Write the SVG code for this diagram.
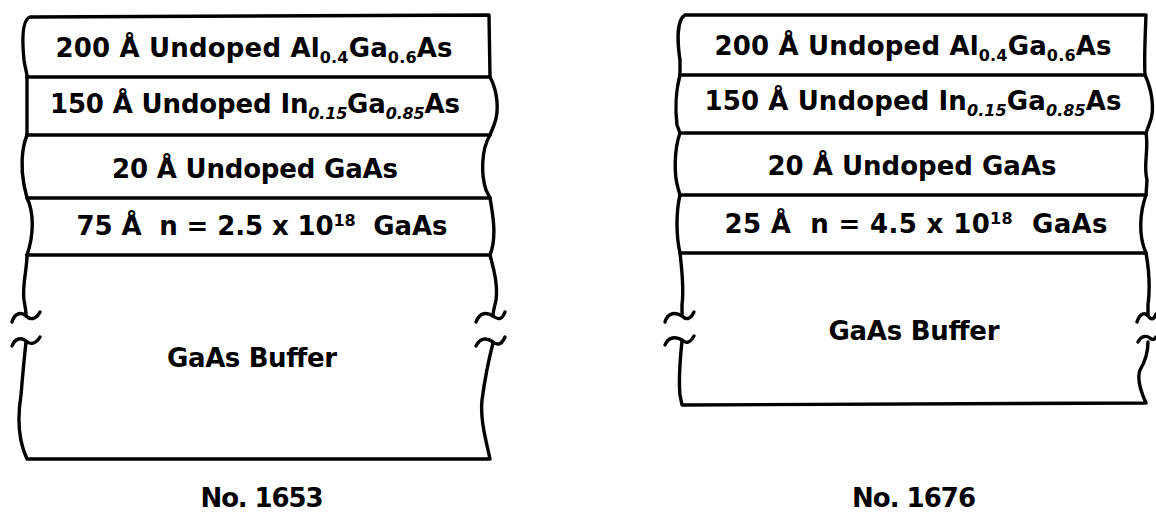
<svg xmlns="http://www.w3.org/2000/svg" width="1156" height="513" viewBox="0 0 1156 513">
<style>
  .ln{fill:none;stroke:#000;stroke-width:3.4;stroke-linecap:round;stroke-linejoin:round}
  .t{font-family:"DejaVu Sans","Open Sans",sans-serif;font-weight:bold;font-size:26px;fill:#000;text-anchor:middle}
  .sub{font-size:16px}
  .it{font-style:italic}
</style>
<rect width="1156" height="513" fill="#fff"/>

<g id="stack-1653">
  <g id="outline-1653" class="ln">
    <path d="M27,77 C27,72 25,68 24,60 C22,40 22,20 30,17 L489,15 L490,77"/>
    <path d="M490,77 C497,90 500,110 494,125 L490,135"/>
    <path d="M27,77 L27,135"/>
    <path d="M27,135 C21,150 21,170 24,185 L27,198"/>
    <path d="M490,135 C481,150 481,175 486,190 L490,198"/>
    <path d="M27,198 C34,212 34,235 27,255"/>
    <path d="M490,198 C493,215 497,238 490,255"/>
    <path d="M27,255 C27,270 22,285 24,300 C25,306 26,310 26,315"/>
    <path d="M12,322 C15,312 22,312 26,316 C30,320 36,320 40,312"/>
    <path d="M12,346 C15,338 22,337 26,341 C30,345 36,344 40,337"/>
    <path d="M26,342 C24,360 22,383 21,395 C17,420 18,440 27,459 L490,459 C486,440 480,420 482,400 C484,385 486,370 493,343"/>
    <path d="M476,346 C480,338 486,337 493,342 C498,346 502,344 505,337"/>
    <path d="M490,255 C494,270 498,285 496,300 C495,306 493,310 493,316"/>
    <path d="M476,322 C480,312 487,312 493,316 C498,320 502,320 505,312"/>
  </g>
  <g id="layer-1653-boundaries" class="ln">
    <path d="M27,77 L490,77"/>
    <path d="M27,135 L490,135"/>
    <path d="M27,198 L490,198"/>
    <path d="M27,255 L490,255"/>
  </g>
  <text class="t" x="254" y="57" textLength="397" lengthAdjust="spacing">200 Å Undoped Al<tspan class="sub" dy="6">0.4</tspan><tspan dy="-6">Ga</tspan><tspan class="sub" dy="6">0.6</tspan><tspan dy="-6">As</tspan></text>
  <text class="t" x="255" y="113" textLength="410" lengthAdjust="spacing">150 Å Undoped In<tspan class="sub it" dy="6">0.15</tspan><tspan dy="-6">Ga</tspan><tspan class="sub it" dy="6">0.85</tspan><tspan dy="-6">As</tspan></text>
  <text class="t" x="255" y="178" textLength="286" lengthAdjust="spacing">20 Å Undoped GaAs</text>
  <text class="t" x="262" y="235" textLength="371" lengthAdjust="spacing" xml:space="preserve">75 Å  n = 2.5 x 10<tspan class="sub" dy="-9">18</tspan><tspan dy="9">  GaAs</tspan></text>
  <text class="t" x="252" y="367" textLength="170" lengthAdjust="spacing">GaAs Buffer</text>
  <text class="t" x="262" y="507" textLength="123" lengthAdjust="spacing">No. 1653</text>
</g>

<g id="stack-1676">
  <g id="outline-1676" class="ln">
    <path d="M680,75 L680,60 C677,40 677,20 685,15 L1146,15 C1145,40 1144,60 1145,75"/>
    <path d="M680,75 C676,90 675,110 677,125 L680,133"/>
    <path d="M1145,75 C1152,90 1155,110 1150,122 L1146,133"/>
    <path d="M680,133 C674,150 674,175 678,188 L680,195"/>
    <path d="M1146,133 C1149,150 1143,165 1147,180 L1146,195"/>
    <path d="M680,195 C676,212 676,235 680,253"/>
    <path d="M1146,195 C1140,212 1138,235 1146,253"/>
    <path d="M680,253 C682,270 684,290 682,305 L682,315"/>
    <path d="M665,322 C668,312 676,312 682,316 C686,320 690,320 694,312"/>
    <path d="M665,345 C668,337 676,336 682,340 C686,344 690,343 694,336"/>
    <path d="M682,341 C680,360 679,385 680,395 L682,405 L1146,403 C1140,390 1137,378 1140,370 C1146,360 1148,352 1148,342"/>
    <path d="M1138,342 C1141,336 1146,335 1150,338 C1152,340 1154,340 1156,337"/>
    <path d="M1146,253 C1149,270 1150,290 1148,305 L1148,315"/>
    <path d="M1137,322 C1140,313 1145,312 1148,316 C1151,320 1154,320 1156,314"/>
  </g>
  <g id="layer-1676-boundaries" class="ln">
    <path d="M680,75 L1145,75"/>
    <path d="M680,133 L1146,133"/>
    <path d="M680,195 L1146,195"/>
    <path d="M680,253 L1146,253"/>
  </g>
  <text class="t" x="913" y="55" textLength="397" lengthAdjust="spacing">200 Å Undoped Al<tspan class="sub" dy="6">0.4</tspan><tspan dy="-6">Ga</tspan><tspan class="sub" dy="6">0.6</tspan><tspan dy="-6">As</tspan></text>
  <text class="t" x="913" y="110" textLength="417" lengthAdjust="spacing">150 Å Undoped In<tspan class="sub it" dy="6">0.15</tspan><tspan dy="-6">Ga</tspan><tspan class="sub it" dy="6">0.85</tspan><tspan dy="-6">As</tspan></text>
  <text class="t" x="912" y="175" textLength="289" lengthAdjust="spacing">20 Å Undoped GaAs</text>
  <text class="t" x="916" y="233" textLength="383" lengthAdjust="spacing" xml:space="preserve">25 Å  n = 4.5 x 10<tspan class="sub" dy="-9">18</tspan><tspan dy="9">  GaAs</tspan></text>
  <text class="t" x="914" y="340" textLength="171" lengthAdjust="spacing">GaAs Buffer</text>
  <text class="t" x="914" y="507" textLength="124" lengthAdjust="spacing">No. 1676</text>
</g>
</svg>
